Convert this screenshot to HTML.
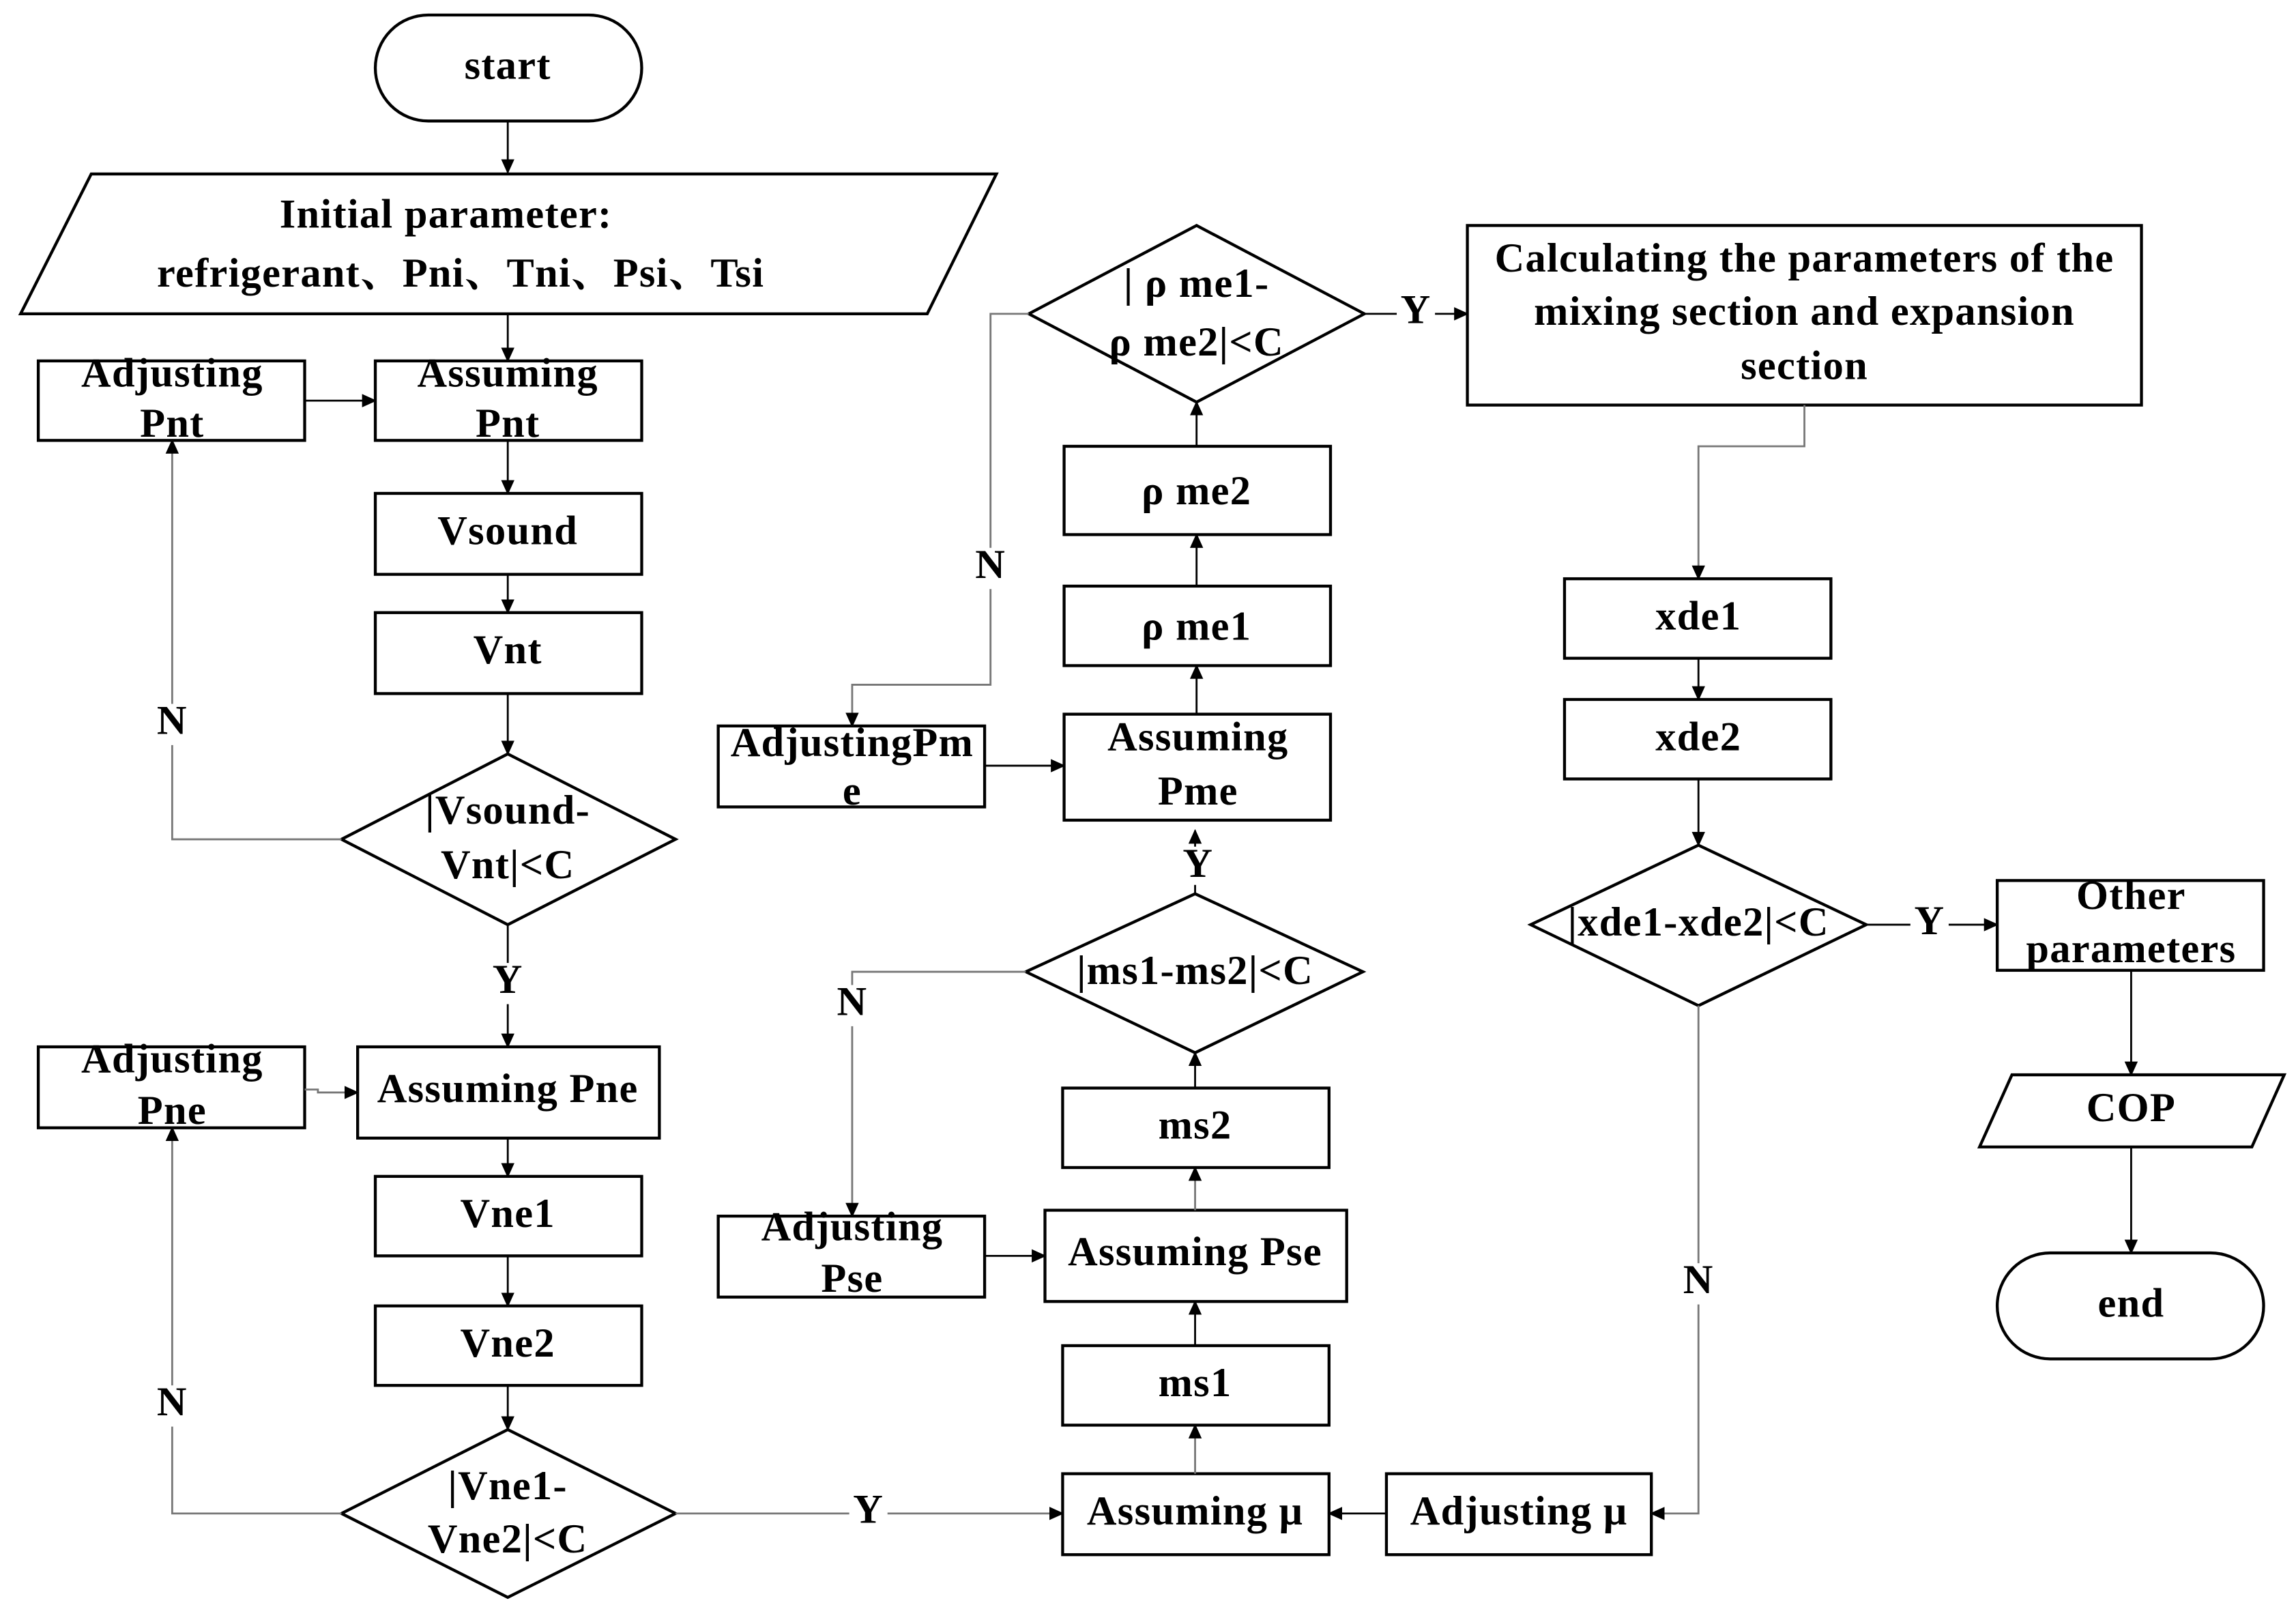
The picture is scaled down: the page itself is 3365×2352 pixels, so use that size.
<!DOCTYPE html>
<html><head><meta charset="utf-8"><style>
html,body{margin:0;padding:0;background:#fff;}
svg{display:block;}
text{font-family:"Liberation Serif","Noto Serif CJK SC",serif;font-weight:bold;font-size:28px;letter-spacing:0.6px;fill:#000;text-anchor:middle;dominant-baseline:middle;}
.s{fill:#fff;stroke:#000;stroke-width:2;}
.l{fill:none;stroke:#000;stroke-width:1.3;}
.g{fill:none;stroke:#777;stroke-width:1.3;}
</style></head><body>
<svg width="3365" height="2352" viewBox="0 0 1560 1090" xmlns="http://www.w3.org/2000/svg">
<defs><marker id="a" markerWidth="10" markerHeight="10" refX="9" refY="5" orient="auto" markerUnits="userSpaceOnUse"><path d="M0,0.5 L10,5 L0,9.5z" fill="#000"/></marker></defs>

<rect class="s" x="255" y="10" width="181" height="72" rx="36"/><text x="345" y="47">start</text>
<path class="l" d="M345,82V117" marker-end="url(#a)"/>
<polygon class="s" points="62,118 677,118 630,213 14,213"/>
<text x="303" y="148">Initial parameter:</text>
<text x="313" y="188">refrigerant、Pni、Tni、Psi、Tsi</text>
<path class="l" d="M345,213V245" marker-end="url(#a)"/>
<rect class="s" x="26" y="245" width="181" height="54"/><text x="117" y="256">Adjusting</text><text x="117" y="290">Pnt</text>
<rect class="s" x="255" y="245" width="181" height="54"/><text x="345" y="256">Assuming</text><text x="345" y="290">Pnt</text>
<path class="l" d="M207,272H255" marker-end="url(#a)"/>
<path class="l" d="M345,299V335" marker-end="url(#a)"/>
<rect class="s" x="255" y="335" width="181" height="55"/><text x="345" y="363">Vsound</text>
<path class="l" d="M345,390V416" marker-end="url(#a)"/>
<rect class="s" x="255" y="416" width="181" height="55"/><text x="345" y="444">Vnt</text>
<path class="l" d="M345,471V512" marker-end="url(#a)"/>
<polygon class="s" points="345,512 459,570 345,628 232,570"/>
<text x="345" y="553">|Vsound-</text><text x="345" y="590">Vnt|&lt;C</text>
<path class="g" d="M232,570H117V299" marker-end="url(#a)"/>
<rect x="104" y="478" width="26" height="28" fill="#fff"/><text x="117" y="492">N</text>
<path class="l" d="M345,628V711" marker-end="url(#a)"/>
<rect x="332" y="654" width="26" height="28" fill="#fff"/><text x="345" y="668">Y</text>

<rect class="s" x="26" y="711" width="181" height="55"/><text x="117" y="722">Adjusting</text><text x="117" y="757">Pne</text>
<rect class="s" x="243" y="711" width="205" height="62"/><text x="345" y="742">Assuming Pne</text>
<path class="g" d="M207,740H216V742H243" marker-end="url(#a)"/>
<path class="l" d="M345,773V799" marker-end="url(#a)"/>
<rect class="s" x="255" y="799" width="181" height="54"/><text x="345" y="827">Vne1</text>
<path class="l" d="M345,853V887" marker-end="url(#a)"/>
<rect class="s" x="255" y="887" width="181" height="54"/><text x="345" y="915">Vne2</text>
<path class="l" d="M345,941V971" marker-end="url(#a)"/>
<polygon class="s" points="345,971 459,1028 345,1085 232,1028"/>
<text x="345" y="1012">|Vne1-</text><text x="345" y="1048">Vne2|&lt;C</text>
<path class="g" d="M232,1028H117V766" marker-end="url(#a)"/>
<rect x="104" y="941" width="26" height="28" fill="#fff"/><text x="117" y="955">N</text>
<path class="g" d="M459,1028H722" marker-end="url(#a)"/>
<rect x="577" y="1014" width="26" height="28" fill="#fff"/><text x="590" y="1028">Y</text>

<rect class="s" x="722" y="1001" width="181" height="55"/><text x="812" y="1029">Assuming μ</text>
<rect class="s" x="942" y="1001" width="180" height="55"/><text x="1032" y="1029">Adjusting μ</text>
<path class="l" d="M942,1028H903" marker-end="url(#a)"/>
<path class="g" d="M812,1001V968" marker-end="url(#a)"/>
<rect class="s" x="722" y="914" width="181" height="54"/><text x="812" y="942">ms1</text>
<path class="l" d="M812,914V884" marker-end="url(#a)"/>
<rect class="s" x="710" y="822" width="205" height="62"/><text x="812" y="853">Assuming Pse</text>
<path class="g" d="M812,822V793" marker-end="url(#a)"/>
<rect class="s" x="722" y="739" width="181" height="54"/><text x="812" y="767">ms2</text>
<path class="l" d="M812,739V715" marker-end="url(#a)"/>
<polygon class="s" points="812,607 926,660 812,715 697,660"/>
<text x="812" y="662">|ms1-ms2|&lt;C</text>
<path class="g" d="M697,660H579V826" marker-end="url(#a)"/>
<rect x="566" y="669" width="26" height="28" fill="#fff"/><text x="579" y="683">N</text>
<rect class="s" x="488" y="826" width="181" height="55"/><text x="579" y="836">Adjusting</text><text x="579" y="871">Pse</text>
<path class="l" d="M669,853H710" marker-end="url(#a)"/>
<path class="l" d="M812,607V564" marker-end="url(#a)"/>
<rect x="800" y="575" width="26" height="26" fill="#fff"/><text x="814" y="589">Y</text>
<rect class="s" x="723" y="485" width="181" height="72"/><text x="814" y="503">Assuming</text><text x="814" y="540">Pme</text>
<rect class="s" x="488" y="493" width="181" height="55"/><text x="579" y="507">AdjustingPm</text><text x="579" y="540">e</text>
<path class="l" d="M669,520H723" marker-end="url(#a)"/>
<path class="l" d="M813,485V452" marker-end="url(#a)"/>
<rect class="s" x="723" y="398" width="181" height="54"/><text x="813" y="428">ρ me1</text>
<path class="l" d="M813,398V363" marker-end="url(#a)"/>
<rect class="s" x="723" y="303" width="181" height="60"/><text x="813" y="336">ρ me2</text>
<path class="l" d="M813,303V273" marker-end="url(#a)"/>
<polygon class="s" points="813,153 927,213 813,273 699,213"/>
<text x="813" y="195">| ρ me1-</text><text x="813" y="235">ρ me2|&lt;C</text>
<path class="g" d="M699,213H673V465H579V493" marker-end="url(#a)"/>
<rect x="660" y="372" width="26" height="28" fill="#fff"/><text x="673" y="386">N</text>
<path class="l" d="M927,213H997" marker-end="url(#a)"/>
<rect x="949" y="199" width="26" height="28" fill="#fff"/><text x="962" y="213">Y</text>

<rect class="s" x="997" y="153" width="458" height="122"/>
<text x="1226" y="178">Calculating the parameters of the</text>
<text x="1226" y="214">mixing section and expansion</text>
<text x="1226" y="251">section</text>
<path class="g" d="M1226,275V303H1154V393" marker-end="url(#a)"/>
<rect class="s" x="1063" y="393" width="181" height="54"/><text x="1154" y="421">xde1</text>
<path class="l" d="M1154,447V475" marker-end="url(#a)"/>
<rect class="s" x="1063" y="475" width="181" height="54"/><text x="1154" y="503">xde2</text>
<path class="l" d="M1154,529V574" marker-end="url(#a)"/>
<polygon class="s" points="1154,574 1268,628 1154,683 1040,628"/>
<text x="1154" y="629">|xde1-xde2|&lt;C</text>
<path class="l" d="M1268,628H1357" marker-end="url(#a)"/>
<rect x="1298" y="614" width="26" height="28" fill="#fff"/><text x="1311" y="628">Y</text>
<rect class="s" x="1357" y="598" width="181" height="61"/><text x="1448" y="611">Other</text><text x="1448" y="647">parameters</text>
<path class="l" d="M1448,659V730" marker-end="url(#a)"/>
<polygon class="s" points="1367,730 1552,730 1530,779 1345,779"/><text x="1448" y="755">COP</text>
<path class="l" d="M1448,779V851" marker-end="url(#a)"/>
<rect class="s" x="1357" y="851" width="181" height="72" rx="36"/><text x="1448" y="888">end</text>
<path class="g" d="M1154,683V1028H1122" marker-end="url(#a)"/>
<rect x="1141" y="858" width="26" height="28" fill="#fff"/><text x="1154" y="872">N</text>
</svg>
</body></html>
